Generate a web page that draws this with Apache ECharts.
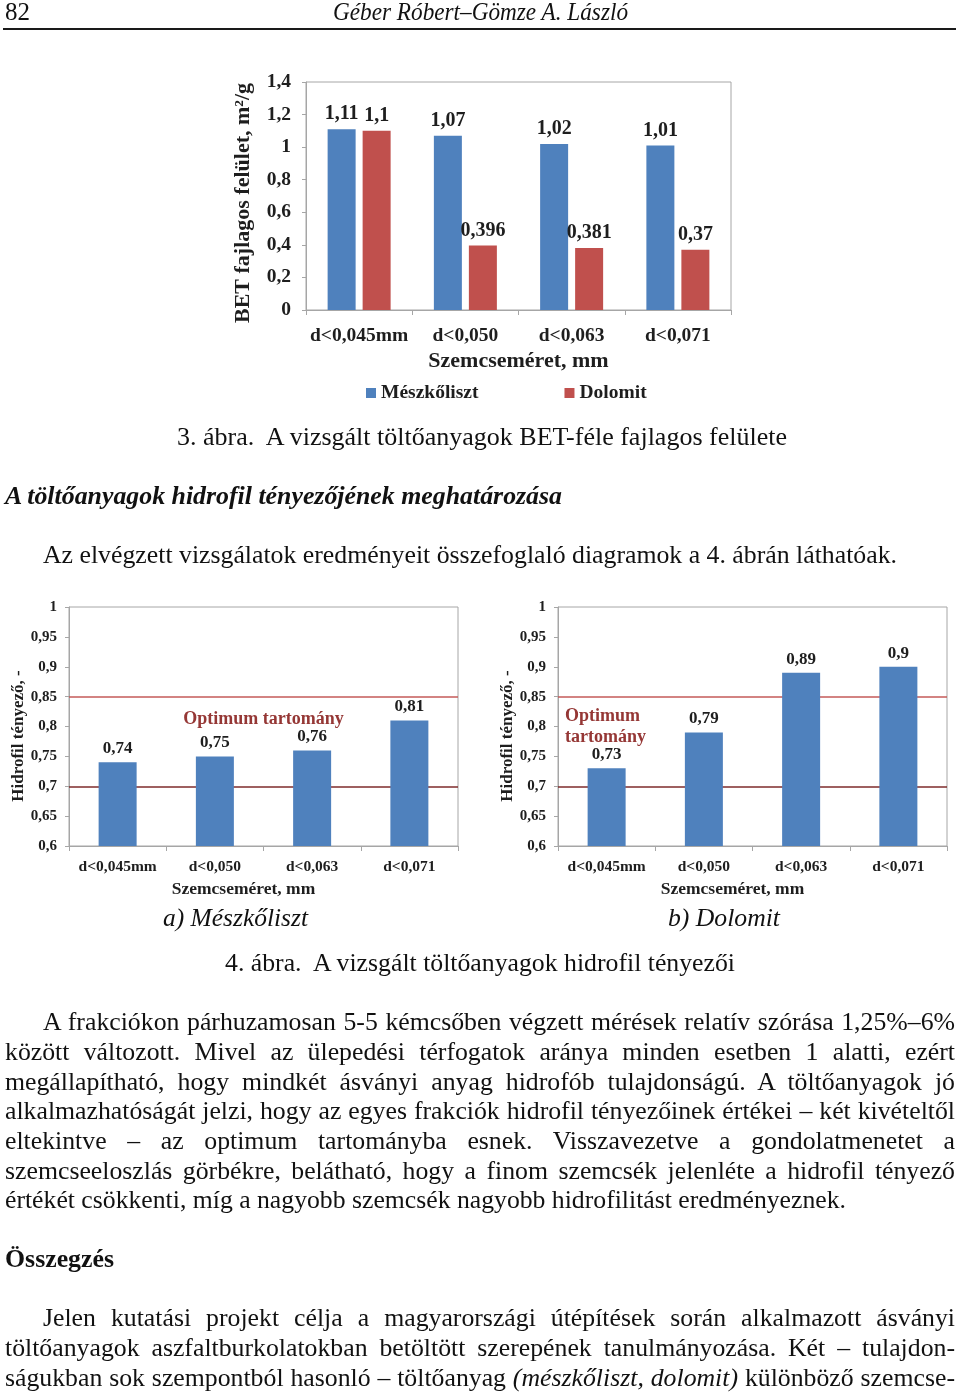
<!DOCTYPE html>
<html><head><meta charset="utf-8">
<script src="https://cdn.jsdelivr.net/npm/echarts@6/dist/echarts.min.js"></script>
<style>
html,body{margin:0;padding:0;background:#fff;}
#page{position:relative;width:960px;height:1395px;overflow:hidden;background:#fff;}
#chart{position:absolute;left:0;top:0;width:960px;height:1395px;}
.ln{position:absolute;white-space:pre;font-family:"Liberation Serif","Times New Roman",serif;font-size:24px;line-height:30px;height:30px;color:#111;}
.ln span{display:inline-block;transform-origin:0 50%;white-space:pre;}
.hr{position:absolute;left:3px;width:953px;top:28px;height:2px;background:#1a1a1a;}
</style></head>
<body><div id="page"><div id="chart"></div><div class="hr"></div></div>
<script>
// ---------------- DATA ----------------
const categories = ['d<0,045mm', 'd<0,050', 'd<0,063', 'd<0,071'];
const seriesNames = ['Mészkőliszt', 'Dolomit'];
const betMeszkoliszt = [1.11, 1.07, 1.02, 1.01];
const betDolomit = [1.10, 0.396, 0.381, 0.37];
const hidrofilMeszkoliszt = [0.74, 0.75, 0.76, 0.81];
const hidrofilDolomit = [0.73, 0.79, 0.89, 0.90];
const optimumBounds = [0.85, 0.70];
const betAxis = {min: 0, max: 1.4, interval: 0.2};
const hidrofilAxis = {min: 0.6, max: 1, interval: 0.05};
const betAxisName = 'BET fajlagos felület, m²/g';
const hidrofilAxisName = 'Hidrofil tényező, -';
const xAxisName = 'Szemcseméret, mm';
const optimumLabel = 'Optimum tartomány';

// ---------------- TEXT LINES ----------------
const textLines = [
  {h:'82', x1:5, x2:30, y:12},
  {h:'<i>Géber Róbert–Gömze A. László</i>', x1:333, x2:628, y:12},
  {h:'3. ábra.  A vizsgált töltőanyagok BET-féle fajlagos felülete', x1:177, x2:787, y:437},
  {h:'<b><i>A töltőanyagok hidrofil tényezőjének meghatározása</i></b>', x1:5, x2:562, y:496},
  {h:'Az elvégzett vizsgálatok eredményeit összefoglaló diagramok a 4. ábrán láthatóak.', x1:43, x2:897, y:555, ref:1},
  {h:'<i>a) Mészkőliszt</i>', x1:163, x2:308, y:918},
  {h:'<i>b) Dolomit</i>', x1:668, x2:780, y:918},
  {h:'4. ábra.  A vizsgált töltőanyagok hidrofil tényezői', x1:225, x2:735, y:963},
  {h:'A frakciókon párhuzamosan 5-5 kémcsőben végzett mérések relatív szórása 1,25%–6%', x1:43, x2:955, y:1022, j:1},
  {h:'között változott. Mivel az ülepedési térfogatok aránya minden esetben 1 alatti, ezért', x1:5, x2:955, y:1052, j:1},
  {h:'megállapítható, hogy mindkét ásványi anyag hidrofób tulajdonságú. A töltőanyagok jó', x1:5, x2:955, y:1082, j:1},
  {h:'alkalmazhatóságát jelzi, hogy az egyes frakciók hidrofil tényezőinek értékei – két kivételtől', x1:5, x2:955, y:1111, j:1},
  {h:'eltekintve – az optimum tartományba esnek. Visszavezetve a gondolatmenetet a', x1:5, x2:955, y:1141, j:1},
  {h:'szemcseeloszlás görbékre, belátható, hogy a finom szemcsék jelenléte a hidrofil tényező', x1:5, x2:955, y:1171, j:1},
  {h:'értékét csökkenti, míg a nagyobb szemcsék nagyobb hidrofilitást eredményeznek.', x1:5, x2:846, y:1200},
  {h:'<b>Összegzés</b>', x1:5, x2:114, y:1259},
  {h:'Jelen kutatási projekt célja a magyarországi útépítések során alkalmazott ásványi', x1:43, x2:955, y:1318, j:1},
  {h:'töltőanyagok aszfaltburkolatokban betöltött szerepének tanulmányozása. Két – tulajdon-', x1:5, x2:955, y:1348, j:1},
  {h:'ságukban sok szempontból hasonló – töltőanyag <i>(mészkőliszt, dolomit)</i> különböző szemcse-', x1:5, x2:955, y:1378, j:1}
];
const page = document.getElementById('page');
const made = textLines.map(L => {
  const d = document.createElement('div');
  d.className = 'ln';
  d.style.left = L.x1 + 'px';
  d.style.top = (L.y - 15) + 'px';
  const s = document.createElement('span');
  s.innerHTML = L.h;
  d.appendChild(s);
  page.appendChild(d);
  return {L, d, s};
});
const refItem = made.find(m => m.L.ref);
const refW = refItem.s.getBoundingClientRect().width;
const BODY_FS = 24 * (refItem.L.x2 - refItem.L.x1) / refW;
made.forEach(({L, d, s}) => {
  d.style.fontSize = BODY_FS + 'px';
  const w = s.getBoundingClientRect().width;
  const target = L.x2 - L.x1;
  if (L.j) {
    const nSp = (s.textContent.match(/ /g) || []).length;
    if (w < target && nSp > 0) {
      s.style.wordSpacing = ((target - w) / nSp) + 'px';
    } else {
      s.style.transform = 'scaleX(' + (target / w) + ')';
    }
  } else {
    s.style.transform = 'scaleX(' + (target / w) + ')';
  }
});

// ---------------- CHART ----------------
const FONT = '"Liberation Serif","Times New Roman",serif';
const BLUE = '#4F81BD', RED = '#C0504D', GRID = '#A6A6A6', TXT = '#1e1e1e';
const fmt = v => String(+(+v).toFixed(3)).replace('.', ',');

const grids = [
  {left: 306, top: 82, width: 425, height: 228},
  {left: 69, top: 607, width: 389, height: 239},
  {left: 558, top: 607, width: 389, height: 239}
];

function xAx(i, fs, margin, nameFs, nameGap, pad) {
  return {
    type: 'category', gridIndex: i, data: categories,
    boundaryGap: true,
    axisLine: {show: true, lineStyle: {color: GRID, width: 1}},
    axisTick: {show: true, alignWithLabel: false, length: 5, lineStyle: {color: GRID}},
    axisLabel: {color: TXT, fontFamily: FONT, fontWeight: 'bold', fontSize: fs, margin: margin, interval: 0},
    splitLine: {show: false},
    name: xAxisName, nameLocation: 'middle', nameGap: nameGap,
    nameTextStyle: {color: TXT, fontFamily: FONT, fontWeight: 'bold', fontSize: nameFs, padding: pad}
  };
}
function yAx(i, ax, fs, margin, name, nameFs, nameGap, pad) {
  return {
    type: 'value', gridIndex: i, min: ax.min, max: ax.max, interval: ax.interval,
    axisLine: {show: true, lineStyle: {color: GRID, width: 1}},
    axisTick: {show: true, length: 4, lineStyle: {color: GRID}},
    axisLabel: {color: TXT, fontFamily: FONT, fontWeight: 'bold', fontSize: fs, margin: margin, formatter: fmt},
    splitLine: {show: false},
    name: name, nameLocation: 'middle', nameGap: nameGap, nameRotate: 90,
    nameTextStyle: {color: TXT, fontFamily: FONT, fontWeight: 'bold', fontSize: nameFs, padding: pad}
  };
}
const optLines = {
  silent: true, symbol: 'none', z: 1,
  label: {show: false},
  lineStyle: {type: 'solid', width: 1.5},
  data: [
    {yAxis: optimumBounds[0], lineStyle: {color: '#C55A58'}},
    {yAxis: optimumBounds[1], lineStyle: {color: '#7E2B2B'}}
  ]
};
function dataLabel(fs) {
  return {show: true, position: 'top', distance: 5, color: TXT, fontFamily: FONT, fontWeight: 'bold', fontSize: fs, formatter: p => fmt(p.value)};
}

const chart = echarts.init(document.getElementById('chart'), null, {renderer: 'canvas'});
const option = {
  animation: false,
  backgroundColor: 'transparent',
  grid: grids.map(g => Object.assign({show: true, borderColor: GRID, borderWidth: 1, backgroundColor: 'transparent', containLabel: false, outerBoundsMode: 'none'}, g)),
  legend: {
    data: seriesNames, left: 361, top: 378, icon: 'rect', itemWidth: 10, itemHeight: 10, itemGap: 86,
    textStyle: {color: TXT, fontFamily: FONT, fontWeight: 'bold', fontSize: 19.5}
  },
  xAxis: [
    xAx(0, 19.5, 16, 22, 40, [0, 0, 0, 0]),
    xAx(1, 15.5, 13, 17.5, 34, [0, 40, 0, 0]),
    xAx(2, 15.5, 13, 17.5, 34, [0, 40, 0, 0])
  ],
  yAxis: [
    yAx(0, betAxis, 19.5, 15, betAxisName, 22, 52, [0, 14, 0, 0]),
    yAx(1, hidrofilAxis, 15, 12, hidrofilAxisName, 17, 40, [0, 19, 0, 0]),
    yAx(2, hidrofilAxis, 15, 12, hidrofilAxisName, 17, 40, [0, 19, 0, 0])
  ],
  series: [
    {name: seriesNames[0], type: 'bar', xAxisIndex: 0, yAxisIndex: 0, data: betMeszkoliszt, barWidth: 28, barGap: '25%', itemStyle: {color: BLUE}, label: dataLabel(20), z: 2},
    {name: seriesNames[1], type: 'bar', xAxisIndex: 0, yAxisIndex: 0, data: betDolomit, barWidth: 28, barGap: '25%', itemStyle: {color: RED}, label: dataLabel(20), z: 2},
    {name: 'a', type: 'bar', xAxisIndex: 1, yAxisIndex: 1, data: hidrofilMeszkoliszt, barWidth: 38, itemStyle: {color: BLUE}, label: dataLabel(17), markLine: optLines, z: 2},
    {name: 'b', type: 'bar', xAxisIndex: 2, yAxisIndex: 2, data: hidrofilDolomit, barWidth: 38, itemStyle: {color: BLUE}, label: dataLabel(17), markLine: optLines, z: 2}
  ]
};
chart.setOption(option);

// Optimum range annotations placed through axis conversion
const pa = chart.convertToPixel({xAxisIndex: 1, yAxisIndex: 1}, [1.5, 0.812]);
const pbY = chart.convertToPixel({yAxisIndex: 2}, 0.80);
chart.setOption({
  graphic: [
    {type: 'text', x: grids[1].left + grids[1].width / 2, y: pa[1], z: 10,
     style: {text: optimumLabel, fill: '#953735', font: 'bold 18px ' + FONT, textAlign: 'center', textVerticalAlign: 'middle'}},
    {type: 'text', x: grids[2].left + 7, y: pbY, z: 10,
     style: {text: optimumLabel.replace(' ', '\n'), fill: '#953735', font: 'bold 18px ' + FONT, textAlign: 'left', textVerticalAlign: 'middle', lineHeight: 21}}
  ]
});
</script>
</body></html>
